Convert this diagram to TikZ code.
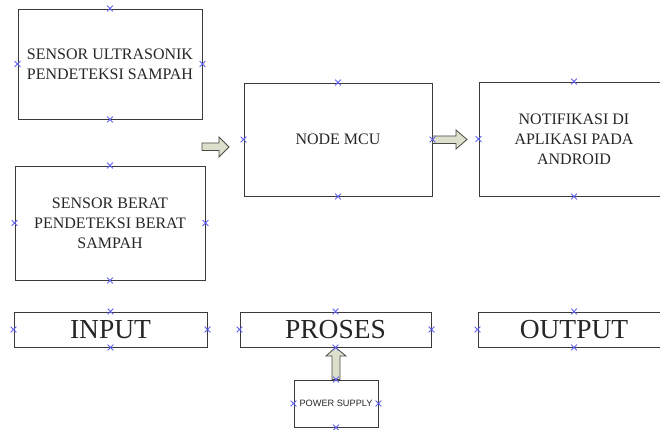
\documentclass[tikz,border=0pt]{standalone}
\usepackage{fontspec}
\setmainfont{Liberation Serif}
\newfontfamily\arialf{Liberation Sans}
\usetikzlibrary{shapes.misc}
\definecolor{boxline}{HTML}{3A3A3A}
\definecolor{txt}{HTML}{262626}
\definecolor{arrfill}{HTML}{DCDFCB}
\definecolor{arrline}{HTML}{4A4A44}
\definecolor{mkblue}{HTML}{6060F0}
\begin{document}
\begin{tikzpicture}[x=1pt,y=-1pt,
  box/.style={draw=boxline,line width=0.9pt,rectangle,inner sep=0pt,align=center,text=txt,font=\fontsize{16}{20}\selectfont},
  bigbox/.style={box,font=\fontsize{27.5}{30}\selectfont},
  blockarr/.style={draw=arrline,fill=arrfill,line width=0.8pt,line join=miter},
  xmk/.style={cross out,draw=mkblue,line width=0.8pt,minimum size=5pt,inner sep=0pt}]
\useasboundingbox (0,0) rectangle (660,430);
\clip (0,0) rectangle (660,430);
\node[box,minimum width=184,minimum height=110] (b1) at (110,64) {SENSOR ULTRASONIK\\PENDETEKSI SAMPAH};
\node[box,minimum width=190,minimum height=114] (b2) at (110,223) {SENSOR BERAT\\PENDETEKSI BERAT\\SAMPAH};
\node[box,minimum width=188,minimum height=113] (mcu) at (338,139.5) {NODE MCU};
\node[box,minimum width=190,minimum height=114] (out) at (574,139) {NOTIFIKASI DI\\APLIKASI PADA\\ANDROID};
\node[bigbox,minimum width=193,minimum height=35] (inp) at (110.5,329.5) {INPUT};
\node[bigbox,minimum width=191,minimum height=35] (pro) at (335.5,329.5) {PROSES};
\node[bigbox,minimum width=192,minimum height=35] (outp) at (574,329.5) {OUTPUT};
\node[box,minimum width=84,minimum height=47,font=\arialf\fontsize{9.2}{11}\selectfont] (pow) at (336,403.5) {POWER SUPPLY};
% block arrows
\draw[blockarr] (202,143) -- (219,143) -- (219,137) -- (229,147) -- (219,157) -- (219,150.5) -- (202,150.5) -- cycle;
\draw[blockarr] (mcu.east |- 0,136) -- (456,136) -- (456,130) -- (467,139.5) -- (456,149) -- (456,143.5) -- (mcu.east |- 0,143.5) -- cycle;
\draw[blockarr] (pow.north -| 332,0) -- (332,356) -- (326,356) -- (pro.south) -- (346,356) -- (340,356) -- (pow.north -| 340,0) -- cycle;
% connection markers
\foreach \n in {b1,b2,mcu,out,inp,pro,outp,pow}
  \foreach \a in {north,south,east,west}
    \node[xmk] at (\n.\a) {};
\end{tikzpicture}
\end{document}
